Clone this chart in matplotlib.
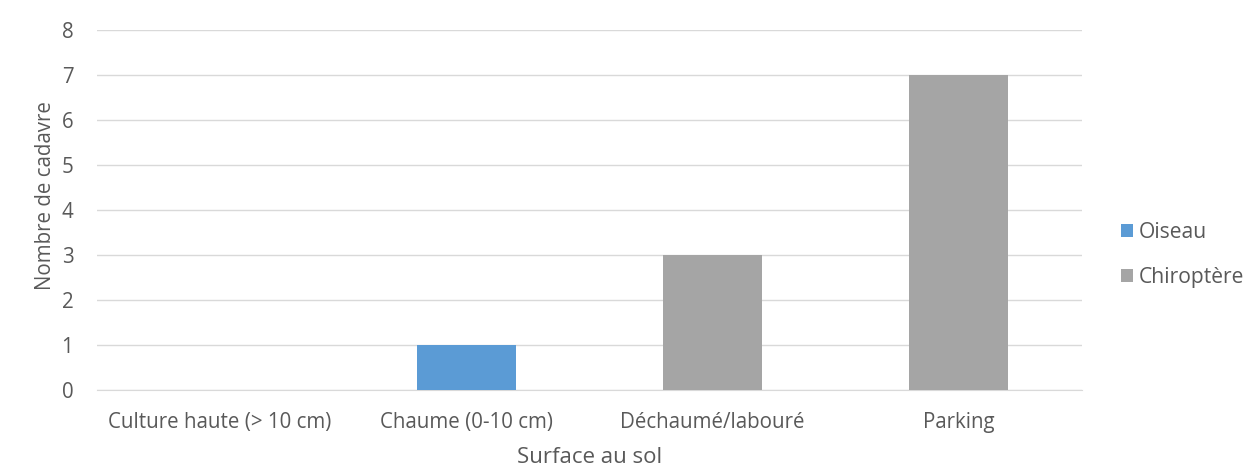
import matplotlib.pyplot as plt
import numpy as np

plt.rcParams['font.family'] = ['Open Sans', 'DejaVu Sans']

surfaces = ['Culture haute (> 10 cm)', 'Chaume (0-10 cm)', 'Déchaumé/labouré', 'Parking']
oiseau = [0, 1, 0, 0]
chiroptere = [0, 0, 3, 7]

text_col = '#595959'

fig = plt.figure(figsize=(12.53, 4.68), dpi=100)
ax = fig.add_axes([0.0774, 0.1667, 0.786, 0.769])

x = np.arange(len(surfaces))
ax.bar(x, oiseau, width=0.4, color='#5B9BD5', label='Oiseau', zorder=3)
ax.bar(x, chiroptere, width=0.4, bottom=oiseau, color='#A5A5A5', label='Chiroptère', zorder=3)

ax.set_xlim(-0.5, len(surfaces) - 0.5)
ax.set_ylim(0, 8)
ax.set_yticks(range(0, 9))
ax.set_xticks(x)
ax.set_xticklabels(surfaces)
ax.yaxis.grid(True, color='#D9D9D9', linewidth=1, zorder=0)
ax.tick_params(axis='both', length=0, labelsize=14.8, colors=text_col)
ax.tick_params(axis='x', pad=16)
ax.tick_params(axis='y', pad=17)
for side in ['top', 'right', 'left']:
    ax.spines[side].set_visible(False)
ax.spines['bottom'].set_color('#D9D9D9')

ax.set_xlabel('Surface au sol', fontsize=16, color=text_col, labelpad=10)
ax.set_ylabel('Nombre de cadavre', fontsize=14.8, color=text_col)
ax.yaxis.set_label_coords(-0.042, 0.54)

ax.legend(loc='center left', bbox_to_anchor=(1.02, 0.375), frameon=False,
          fontsize=15.2, labelcolor=text_col, handlelength=0.6, handleheight=0.6,
          handletextpad=0.25, labelspacing=1.15)

fig.savefig('out.png', dpi=100)
